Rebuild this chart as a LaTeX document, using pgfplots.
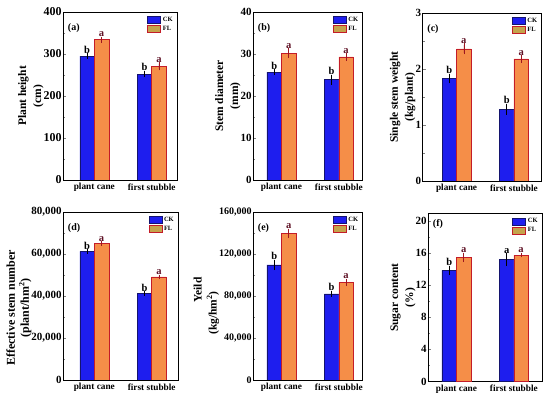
\documentclass[border=0pt]{standalone}
\usepackage{pgfplots}
\pgfplotsset{compat=1.18}
\usepackage{fontspec}
\setmainfont{Liberation Serif}
\definecolor{ckblue}{RGB}{30,30,238}
\definecolor{ckedge}{RGB}{20,20,110}
\definecolor{florange}{RGB}{245,142,72}
\definecolor{fledge}{RGB}{196,28,40}
\definecolor{flkhaki}{RGB}{196,164,76}
\definecolor{aletter}{RGB}{95,18,38}
\tikzset{plabel/.style={font=\fontsize{10}{11}\selectfont\bfseries}}
\pgfplotsset{
 panel/.style={
  scale only axis, height=168pt, anchor=south west,
  ymin=0,
  xtick={0,1}, xticklabels={plant cane, first stubble},
  xtick style={draw=none},
  ytick pos=left, tick align=inside,
  minor y tick num=1,
  major tick length=3pt, minor tick length=1.8pt,
  yticklabel style={font=\fontsize{11}{12}\selectfont\bfseries, inner sep=1.5pt},
  xticklabel style={font=\fontsize{9.3}{10}\selectfont\bfseries},
  /pgf/number format/assume math mode=true,
  /pgf/number format/1000 sep={,},
  /pgf/number format/fixed,
  scaled y ticks=false,
  ylabel style={font=\fontsize{11.5}{15}\selectfont\bfseries, align=center},
  ylabel shift=-5pt,
  axis line style={line width=0.6pt},
  legend style={draw=none, fill=none, at={(0.99,0.99)}, anchor=north east,
    font=\fontsize{6.5}{7}\selectfont\bfseries, inner sep=1pt, row sep=-0.5pt,
    cells={anchor=west}},
  legend image code/.code={\draw[#1] (0pt,-3.5pt) rectangle (13pt,3.5pt);},
 },
 ck/.style={ybar, forget plot, bar width=14.5pt, bar shift=0pt, fill=ckblue, draw=ckedge, line width=0.4pt,
   error bars/.cd, y dir=both, y explicit, error bar style={black, line width=0.5pt},
   error mark options={mark size=1.6pt, black, line width=0.5pt}},
 fl/.style={ybar, forget plot, bar width=14.5pt, bar shift=0pt, fill=florange, draw=fledge, line width=0.5pt,
   error bars/.cd, y dir=both, y explicit, error bar style={fledge!80!black, line width=0.5pt},
   error mark options={mark size=1.6pt, fledge!80!black, line width=0.5pt}},
 lab/.style={draw=none, mark=none, forget plot, nodes near coords, point meta=explicit symbolic,
   nodes near coords style={font=\fontsize{10.5}{11}\selectfont\bfseries, inner sep=1.2pt, text=#1}},
 lab/.default=black,
}
\newcommand{\legendimages}{%
  \addlegendimage{fill=ckblue, draw=ckedge, line width=0.4pt}
  \addlegendimage{fill=flkhaki, draw=fledge, line width=0.5pt}
  \legend{CK,FL}}
\begin{document}
\begin{tikzpicture}
\path[use as bounding box] (0,0) rectangle (550pt,397pt);
% (a)
\begin{axis}[panel, at={(63.3pt,217pt)}, width=113.7pt, xmin=-0.54, xmax=1.44,
  ymax=400, ytick={0,100,200,300,400}, ylabel={Plant height\\(cm)},
  yticklabel style={font=\fontsize{12}{13}\selectfont\bfseries}]
\legendimages
\addplot[ck] coordinates {(-0.126,295) +- (0,3) (0.874,252) +- (0,4)};
\addplot[fl] coordinates {(0.126,334) +- (0,3) (1.126,271) +- (0,6)};
\addplot[lab] coordinates {(-0.126,298)[b] (0.874,256)[b]};
\addplot[lab=aletter] coordinates {(0.126,337)[a] (1.126,277)[a]};
\node[plabel, anchor=north west] at (rel axis cs:0.01,0.95) {(a)};
\end{axis}
% (b)
\begin{axis}[panel, at={(253.3pt,217pt)}, width=109.1pt, xmin=-0.49, xmax=1.41,
  ymax=40, ytick={0,10,20,30,40}, ylabel={Stem diameter\\(mm)}]
\legendimages
\addplot[ck] coordinates {(-0.126,25.7) +- (0,0.3) (0.874,23.9) +- (0,0.8)};
\addplot[fl] coordinates {(0.126,30.2) +- (0,0.8) (1.126,29.3) +- (0,0.5)};
\addplot[lab] coordinates {(-0.126,26.0)[b] (0.874,24.7)[b]};
\addplot[lab=aletter] coordinates {(0.126,31.0)[a] (1.126,29.8)[a]};
\node[plabel, anchor=north west] at (rel axis cs:0.01,0.95) {(b)};
\end{axis}
% (c)
\begin{axis}[panel, at={(422.7pt,216pt)}, width=118.8pt, xmin=-0.59, xmax=1.48,
  ymax=3, ytick={0,1,2,3}, ylabel={Single stem weight\\(kg/plant)}]
\legendimages
\addplot[ck] coordinates {(-0.126,1.83) +- (0,0.06) (0.874,1.28) +- (0,0.07)};
\addplot[fl] coordinates {(0.126,2.36) +- (0,0.07) (1.126,2.18) +- (0,0.04)};
\addplot[lab] coordinates {(-0.126,1.89)[b] (0.874,1.35)[b]};
\addplot[lab=aletter] coordinates {(0.126,2.43)[a] (1.126,2.22)[a]};
\node[plabel, anchor=north west] at (rel axis cs:0.01,0.95) {(c)};
\end{axis}
% (d)
\begin{axis}[panel, at={(63.3pt,17pt)}, width=114.8pt, xmin=-0.54, xmax=1.46,
  ymax=80000, ytick={0,20000,40000,60000,80000}, ylabel={Effective stem number\\(plant/hm\textsuperscript{2})},
  ylabel style={font=\fontsize{12}{14}\selectfont\bfseries, at={(ticklabel cs:0.43)}}]
\legendimages
\addplot[ck] coordinates {(-0.126,61200) +- (0,300) (0.874,41200) +- (0,300)};
\addplot[fl] coordinates {(0.126,64900) +- (0,300) (1.126,49100) +- (0,300)};
\addplot[lab] coordinates {(-0.126,61500)[b] (0.874,41500)[b]};
\addplot[lab=aletter] coordinates {(0.126,65200)[a] (1.126,49400)[a]};
\node[plabel, anchor=north west] at (rel axis cs:0.01,0.95) {(d)};
\end{axis}
% (e)
\begin{axis}[panel, at={(253.3pt,17pt)}, width=109.1pt, xmin=-0.49, xmax=1.41,
  ymax=160000, ytick={0,40000,80000,120000,160000},
  ylabel={\hspace*{23pt}Yeild\\(kg/hm\textsuperscript{2})\hspace*{23pt}},
  ylabel style={at={(ticklabel cs:0.467)}},
  yticklabel style={font=\fontsize{10}{11}\selectfont\bfseries}]
\legendimages
\addplot[ck] coordinates {(-0.126,109700) +- (0,3500) (0.874,82100) +- (0,1500)};
\addplot[fl] coordinates {(0.126,139600) +- (0,3000) (1.126,92900) +- (0,2000)};
\addplot[lab] coordinates {(-0.126,113200)[b] (0.874,83600)[b]};
\addplot[lab=aletter] coordinates {(0.126,142600)[a] (1.126,94900)[a]};
\node[plabel, anchor=north west] at (rel axis cs:0.01,0.95) {(e)};
\end{axis}
% (f)
\begin{axis}[panel, at={(428.3pt,15.5pt)}, width=113.7pt, xmin=-0.49, xmax=1.49,
  ymax=20.9, ytick={0,4,8,12,16,20}, ylabel={Sugar content\\(\%)}]
\legendimages
\addplot[ck] coordinates {(-0.126,13.83) +- (0,0.4) (0.874,15.16) +- (0,0.6)};
\addplot[fl] coordinates {(0.126,15.44) +- (0,0.4) (1.126,15.73) +- (0,0.1)};
\addplot[lab] coordinates {(-0.126,14.23)[b] (0.874,15.76)[a]};
\addplot[lab=aletter] coordinates {(0.126,15.84)[a] (1.126,15.83)[a]};
\node[plabel, anchor=north west] at (rel axis cs:0.01,0.985) {(f)};
\end{axis}
\end{tikzpicture}
\end{document}
